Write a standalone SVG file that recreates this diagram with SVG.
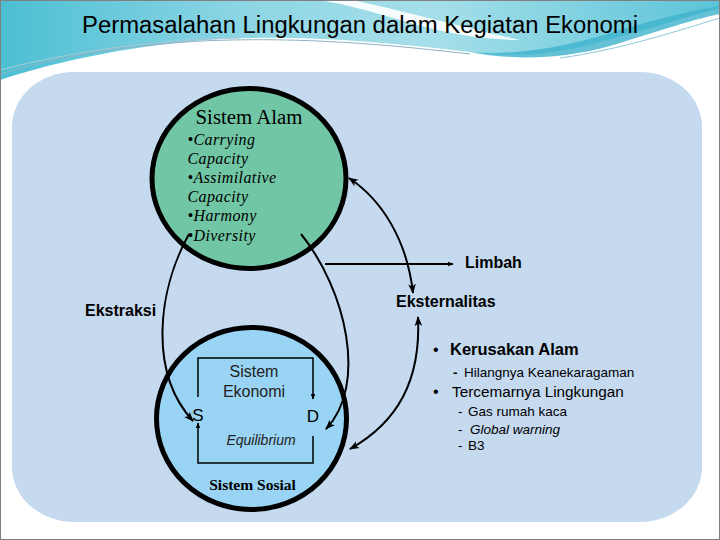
<svg xmlns="http://www.w3.org/2000/svg" width="720" height="540" viewBox="0 0 720 540">
  <defs>
    <linearGradient id="cyan" x1="0" y1="0" x2="1" y2="0">
      <stop offset="0" stop-color="#4cbfd3"/>
      <stop offset="0.35" stop-color="#8fd6e5"/>
      <stop offset="0.6" stop-color="#a6dfea"/>
      <stop offset="1" stop-color="#5cc4d8"/>
    </linearGradient>
    <marker id="ah" viewBox="0 0 10 10" refX="9" refY="5" markerWidth="10" markerHeight="10" markerUnits="userSpaceOnUse" orient="auto-start-reverse">
      <path d="M0,1.2 L10,5 L0,8.8 L2.5,5 Z" fill="#000"/>
    </marker>
    <marker id="ahs" viewBox="0 0 10 10" refX="9" refY="5" markerWidth="6" markerHeight="6" markerUnits="userSpaceOnUse" orient="auto">
      <path d="M0,1 L10,5 L0,9 Z" fill="#000"/>
    </marker>
    <style>
      .sans { font-family: "Liberation Sans", Arial, sans-serif; }
      .serif { font-family: "Liberation Serif", "Times New Roman", serif; }
      .lbl { font-family: "Liberation Sans", Arial, sans-serif; font-weight: bold; font-size: 16px; fill: #000; }
      .conn { fill: none; stroke: #000; stroke-width: 2; }
      .box { fill: none; stroke: #000; stroke-width: 1.5; }
      .it { font-family: "Liberation Serif", "Times New Roman", serif; font-style: italic; font-size: 16px; letter-spacing: 0.4px; fill: #000; }
    </style>
  </defs>

  <!-- slide background -->
  <rect x="0" y="0" width="720" height="540" fill="#ffffff"/>
  <g id="header-decoration">
    <path d="M0,0 H720 V8 C690,16 640,32 585,46 C545,56 505,57 470,52 C385,42 300,35 220,39 C140,44 60,60 0,80 Z" fill="url(#cyan)"/>
    <path d="M318,0 H352 C400,10 450,24 520,40 C480,40 440,32 400,20 C370,11 345,4 318,0 Z" fill="#ffffff" opacity="0.9"/>
    <path d="M470,52 C520,56 570,46 620,30 C660,18 695,10 720,6 V14 C690,20 650,34 610,46 C560,60 510,60 470,52 Z" fill="#3fb3cc" opacity="0.8"/>
    <path d="M0,74 C60,56 140,42 230,40 C320,38 400,46 470,54" fill="none" stroke="#8fb3c4" stroke-width="1"/>
    <path d="M0,70 C70,52 150,40 240,38" fill="none" stroke="#a9c8d4" stroke-width="1"/>
    <path d="M560,58 C620,50 680,30 720,18" fill="none" stroke="#8fc7d6" stroke-width="1"/>
  </g>
  <rect x="0.5" y="0.5" width="719" height="539" fill="none" stroke="#808080" stroke-width="1"/>

  <!-- title -->
  <text x="360" y="33" text-anchor="middle" class="sans" font-size="23.5" textLength="556" lengthAdjust="spacingAndGlyphs" fill="#000">Permasalahan Lingkungan dalam Kegiatan Ekonomi</text>

  <!-- panel -->
  <rect id="panel" x="12" y="72" width="690" height="450" rx="62" ry="55" fill="#c5d9ef"/>

  <!-- Sistem Alam -->
  <g id="sistem-alam">
    <ellipse cx="249" cy="178.5" rx="97" ry="90" fill="#70c6a5" stroke="#000" stroke-width="5"/>
    <text x="249" y="124" text-anchor="middle" class="serif" font-size="20.8" fill="#000">Sistem Alam</text>
    <text class="it">
      <tspan x="187.5" y="145">•Carrying</tspan>
      <tspan x="187.5" y="164">Capacity</tspan>
      <tspan x="187.5" y="183">•Assimilative</tspan>
      <tspan x="187.5" y="202">Capacity</tspan>
      <tspan x="187.5" y="221">•Harmony</tspan>
      <tspan x="187.5" y="241">•Diversity</tspan>
    </text>
  </g>

  <!-- Sistem Sosial -->
  <g id="sistem-sosial">
    <ellipse cx="251.5" cy="418.5" rx="95" ry="91" fill="#9ad4f4" stroke="#000" stroke-width="5"/>
    <text x="252.5" y="490" text-anchor="middle" class="serif" font-weight="bold" font-size="15.5" fill="#000">Sistem Sosial</text>
  </g>

  <!-- Sistem Ekonomi -->
  <g id="sistem-ekonomi">
    <path class="box" d="M198,397 V358 H313 V399" marker-end="url(#ahs)"/>
    <path class="box" d="M313,436 V463 H198 V423" marker-end="url(#ahs)"/>
    <text x="254" y="377" text-anchor="middle" class="sans" font-size="16" fill="#222">Sistem</text>
    <text x="254" y="397" text-anchor="middle" class="sans" font-size="16" fill="#222">Ekonomi</text>
    <text x="198" y="421" text-anchor="middle" class="sans" font-size="17" fill="#000">S</text>
    <text x="313" y="422" text-anchor="middle" class="sans" font-size="17" fill="#000">D</text>
    <text x="261" y="445" text-anchor="middle" class="sans" font-style="italic" font-size="14" fill="#222">Equilibrium</text>
  </g>

  <!-- connectors -->
  <g id="connectors">
    <path id="c-ekstraksi" class="conn" d="M189,234 C158,290 148,372 193,421" marker-end="url(#ah)"/>
    <path id="c-alam-d" class="conn" d="M301,234 C346,290 368,385 326,429" marker-end="url(#ah)"/>
    <path id="c-alam-ekst" class="conn" d="M349,178 C382,200 407,240 413,293" marker-start="url(#ah)" marker-end="url(#ah)"/>
    <path id="c-ekst-sosial" class="conn" d="M418,317 C421,380 398,422 350,449" marker-start="url(#ah)" marker-end="url(#ah)"/>
    <path id="c-limbah" class="conn" stroke-width="1.8" d="M325,264 H453" marker-end="url(#ahs)"/>
  </g>

  <!-- labels -->
  <g id="labels">
    <text x="465" y="268" class="lbl">Limbah</text>
    <text x="396" y="307" class="lbl">Eksternalitas</text>
    <text x="85" y="316" class="lbl">Ekstraksi</text>
  </g>

  <!-- right text block -->
  <g id="dampak" class="sans" fill="#000">
    <text x="433" y="355" font-size="16">•</text>
    <text x="450" y="355" font-size="16.5" font-weight="bold">Kerusakan Alam</text>
    <text x="453" y="377" font-size="13.5" font-weight="bold">-</text>
    <text x="464" y="377" font-size="13.5">Hilangnya Keanekaragaman</text>
    <text x="433" y="397" font-size="16">•</text>
    <text x="452" y="397" font-size="15.3">Tercemarnya Lingkungan</text>
    <text x="458" y="416" font-size="13.5">-</text>
    <text x="468" y="416" font-size="13.5">Gas rumah kaca</text>
    <text x="458" y="434" font-size="13.5">-</text>
    <text x="470" y="434" font-size="13.5" font-style="italic">Global warning</text>
    <text x="458" y="450" font-size="13.5">-</text>
    <text x="468" y="450" font-size="13.5">B3</text>
  </g>
</svg>
